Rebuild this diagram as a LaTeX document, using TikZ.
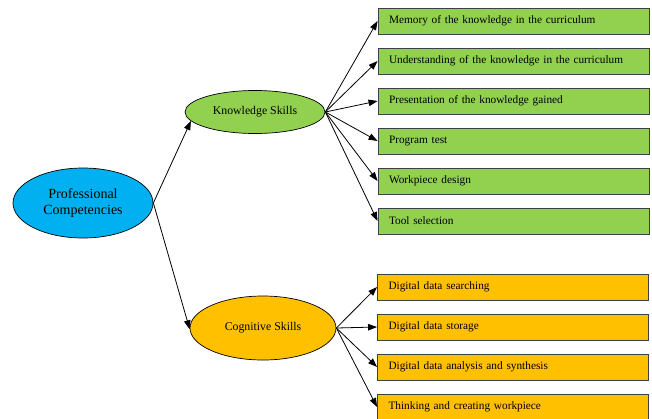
\documentclass[tikz,border=0pt]{standalone}
\usepackage{fontspec}
\setmainfont{Liberation Serif}
\usetikzlibrary{shapes.geometric,arrows.meta}
\definecolor{cblue}{HTML}{00B0F0}
\definecolor{cgreen}{HTML}{92D050}
\definecolor{corange}{HTML}{FFC000}
\definecolor{cborder}{HTML}{404040}
\tikzset{
  ell/.style={ellipse, draw=black, line width=0.7pt, inner sep=0pt, align=center},
  gbox/.style={draw=cborder, line width=0.9pt, fill=cgreen, minimum width=271pt, minimum height=26pt, text width=249pt, align=left, inner xsep=11pt, font=\fontsize{11.3}{13}\selectfont},
  obox/.style={gbox, fill=corange},
  arr/.style={-{Triangle[length=9pt,width=6.5pt]}, line width=0.8pt, black},
}
\begin{document}
\begin{tikzpicture}[x=1pt,y=-1pt]
\useasboundingbox (0,0) rectangle (652,418);
\node[ell, fill=cblue, minimum width=140pt, minimum height=70pt, font=\fontsize{14}{16}\selectfont] (pc) at (83,203) {Professional\\Competencies};
\node[ell, fill=cgreen, minimum width=140pt, minimum height=43pt, font=\fontsize{11.8}{13}\selectfont] (ks) at (255,112) {Knowledge Skills};
\node[ell, fill=corange, minimum width=146pt, minimum height=64pt, font=\fontsize{11.8}{13}\selectfont] (cs) at (263,328) {Cognitive Skills};

\node[gbox] (g1) at (513.5,21) {Memory of the knowledge in the curriculum};
\node[gbox] (g2) at (513.5,61) {Understanding of the knowledge in the curriculum};
\node[gbox] (g3) at (513.5,101) {Presentation of the knowledge gained};
\node[gbox] (g4) at (513.5,141) {Program test};
\node[gbox] (g5) at (513.5,181) {Workpiece design};
\node[gbox] (g6) at (513.5,221) {Tool selection};

\node[obox] (o1) at (513,287) {Digital data searching};
\node[obox] (o2) at (513,327) {Digital data storage};
\node[obox] (o3) at (513,367) {Digital data analysis and synthesis};
\node[obox] (o4) at (513,407) {Thinking and creating workpiece};

\draw[arr] (pc.east) -- (ks.188);
\draw[arr] (pc.east) -- (cs.181);
\foreach \b in {g1,g2,g3,g4,g5,g6} \draw[arr] (ks.east) -- (\b.west);
\foreach \b in {o1,o2,o3,o4} \draw[arr] (cs.east) -- (\b.west);
\end{tikzpicture}
\end{document}
